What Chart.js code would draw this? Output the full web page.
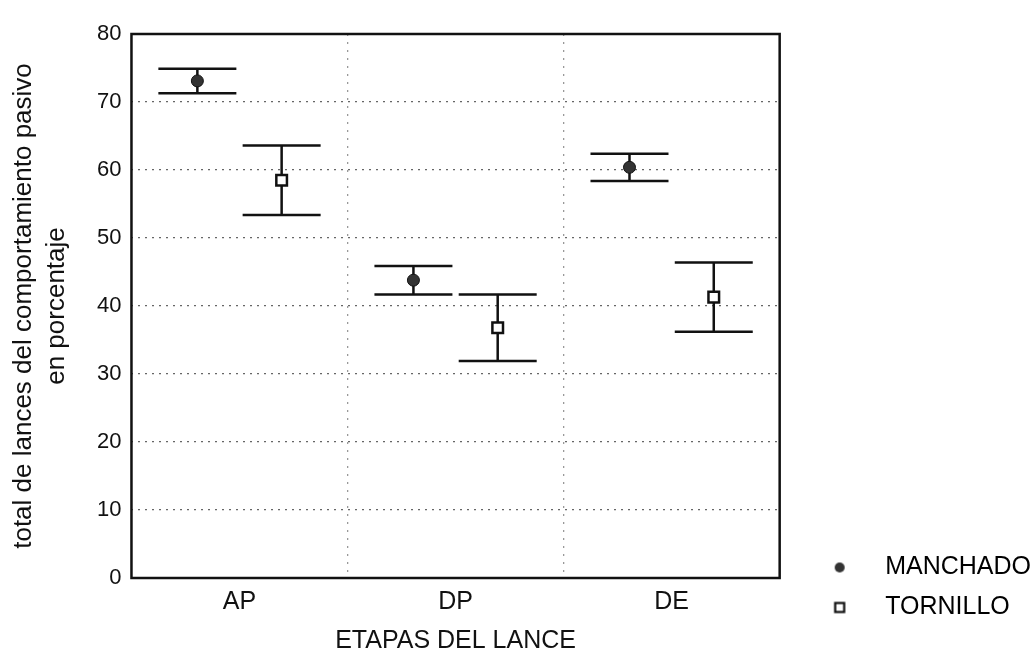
<!DOCTYPE html>
<html>
<head>
<meta charset="utf-8">
<script src="https://cdn.jsdelivr.net/npm/chart.js@4"></script>
<style>
  html, body { margin: 0; padding: 0; background: #fff; }
  #wrap { width: 1036px; height: 660px; }
</style>
</head>
<body>
<div id="wrap"><canvas id="chart" width="1036" height="660"></canvas></div>
<script>
// datos
const categories = ['AP', 'DP', 'DE'];
const manchado = [73.1, 43.8, 60.4];
const manchadoErr = [1.8, 2.1, 2.0];
const tornillo = [58.5, 36.8, 41.3];
const tornilloErr = [5.1, 4.9, 5.1];
const yTicks = [0, 10, 20, 30, 40, 50, 60, 70, 80];

const FONT = "'Liberation Sans', Arial, sans-serif";
const shift = 0.195;   // desplazamiento de cada serie dentro de la etapa
const capHalf = 39;    // medio ancho de la barra de error (px)

function points(values, errs, dx) {
  return values.map((v, i) => ({ x: i + 0.5 + dx, y: v, err: errs[i] }));
}

// marcadores de la leyenda
function marker(kind) {
  const c = document.createElement('canvas');
  c.width = 16; c.height = 16;
  const g = c.getContext('2d');
  if (kind === 'circle') {
    g.fillStyle = '#333';
    g.beginPath(); g.arc(8, 8, 5, 0, Math.PI * 2); g.fill();
  } else {
    g.fillStyle = '#fff';
    g.strokeStyle = '#111';
    g.lineWidth = 2.2;
    g.fillRect(3.5, 3.5, 9, 9);
    g.strokeRect(3.5, 3.5, 9, 9);
  }
  return c;
}
const legendMarks = [marker('circle'), marker('rect')];

const errorBars = {
  id: 'errorBars',
  beforeDatasetsDraw(chart) {
    const ctx = chart.ctx;
    const y = chart.scales.y;
    ctx.save();
    ctx.strokeStyle = '#111';
    ctx.lineWidth = 2.5;
    chart.data.datasets.forEach((ds, di) => {
      const meta = chart.getDatasetMeta(di);
      meta.data.forEach((pt, i) => {
        const d = ds.data[i];
        const top = y.getPixelForValue(d.y + d.err);
        const bot = y.getPixelForValue(d.y - d.err);
        ctx.beginPath();
        ctx.moveTo(pt.x, top); ctx.lineTo(pt.x, bot);
        ctx.moveTo(pt.x - capHalf, top); ctx.lineTo(pt.x + capHalf, top);
        ctx.moveTo(pt.x - capHalf, bot); ctx.lineTo(pt.x + capHalf, bot);
        ctx.stroke();
      });
    });
    ctx.restore();
  }
};

const frame = {
  id: 'frame',
  afterLayout(chart) {
    // la leyenda va algo separada del grafico y por encima del borde inferior
    const lg = chart.legend;
    lg.left += 12; lg.right += 12;
    lg.top -= 21; lg.bottom -= 21;
  },
  afterDatasetsDraw(chart) {
    const a = chart.chartArea;
    const ctx = chart.ctx;
    ctx.save();
    ctx.strokeStyle = '#111';
    ctx.lineWidth = 2.5;
    ctx.strokeRect(a.left, a.top, a.right - a.left, a.bottom - a.top);
    ctx.restore();
  }
};

new Chart(document.getElementById('chart'), {
  type: 'scatter',
  data: {
    datasets: [{
      label: 'MANCHADO',
      data: points(manchado, manchadoErr, -shift),
      pointStyle: 'circle',
      pointRadius: 6,
      pointHoverRadius: 6,
      backgroundColor: '#333',
      borderColor: '#111',
      borderWidth: 1
    }, {
      label: 'TORNILLO',
      data: points(tornillo, tornilloErr, shift),
      pointStyle: 'rect',
      pointRadius: 7.5,
      pointHoverRadius: 7.5,
      backgroundColor: '#fff',
      borderColor: '#111',
      borderWidth: 2.5
    }]
  },
  options: {
    responsive: false,
    animation: false,
    layout: { padding: { left: 8, right: 7, top: 34, bottom: 4 } },
    plugins: {
      tooltip: { enabled: false },
      legend: {
        position: 'right',
        align: 'end',
        maxWidth: 256,
        labels: {
          usePointStyle: true,
          pointStyleWidth: 66,
          boxHeight: 10,
          padding: 15,
          color: '#111',
          font: { family: FONT, size: 25 },
          generateLabels: (chart) => chart.data.datasets.map((ds, i) => ({
            text: ds.label,
            pointStyle: legendMarks[i],
            datasetIndex: i,
            hidden: false,
            lineWidth: 0,
            fillStyle: '#333',
            strokeStyle: '#111'
          }))
        }
      }
    },
    scales: {
      x: {
        type: 'linear',
        min: 0,
        max: 3,
        afterBuildTicks: (s) => {
          s.ticks = [0, 0.5, 1, 1.5, 2, 2.5, 3].map(v => ({ value: v }));
        },
        ticks: {
          autoSkip: false,
          maxRotation: 0,
          padding: 9,
          color: '#111',
          font: { family: FONT, size: 25 },
          callback: (v) => Number.isInteger(v) ? '' : categories[Math.floor(v)]
        },
        grid: {
          drawTicks: false,
          lineWidth: 1.3,
          color: (c) => (c.tick && Number.isInteger(c.tick.value) && c.tick.value > 0 && c.tick.value < 3) ? '#999' : 'rgba(0,0,0,0)'
        },
        border: { display: false, dash: [2, 6] },
        title: {
          display: true,
          text: 'ETAPAS DEL LANCE',
          color: '#111',
          font: { family: FONT, size: 25 },
          padding: { top: 0, bottom: 0 }
        }
      },
      y: {
        min: 0,
        max: 80,
        afterBuildTicks: (s) => { s.ticks = yTicks.map(v => ({ value: v })); },
        ticks: {
          padding: 10,
          color: '#111',
          font: { family: FONT, size: 22 }
        },
        grid: {
          drawTicks: false,
          lineWidth: 1.3,
          color: (c) => (c.tick && c.tick.value > 0 && c.tick.value < 80) ? '#666' : 'rgba(0,0,0,0)'
        },
        border: { display: false, dash: [2, 5] },
        title: {
          display: true,
          text: ['total de lances del comportamiento pasivo', 'en porcentaje'],
          color: '#111',
          font: { family: FONT, size: 26, lineHeight: 1.25 },
          padding: { top: 0, bottom: 14 }
        }
      }
    }
  },
  plugins: [errorBars, frame]
});
</script>
</body>
</html>
